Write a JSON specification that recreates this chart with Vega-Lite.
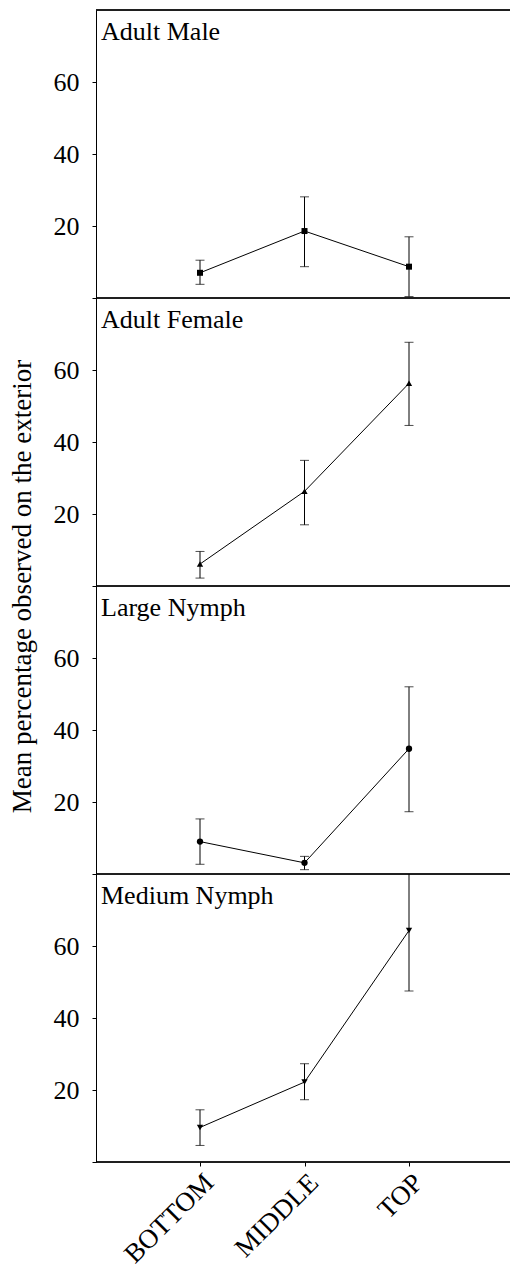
{
  "$schema": "https://vega.github.io/schema/vega-lite/v6.json",
  "background": "white",
  "padding": {"left": 8, "top": 9, "right": 0, "bottom": 0},
  "autosize": {"type": "pad"},
  "bounds": "flush",
  "spacing": 0,
  "config": {
    "view": {"stroke": null},
    "font": "Liberation Serif",
    "axis": {
      "domainColor": "black", "tickColor": "black", "labelColor": "black", "titleColor": "black",
      "labelFont": "Liberation Serif", "titleFont": "Liberation Serif",
      "labelFontSize": 26, "titleFontSize": 27, "titleFontWeight": "normal",
      "grid": false, "tickSize": 4, "domainWidth": 1, "tickWidth": 1
    },
    "title": {"font": "Liberation Serif", "fontSize": 26, "fontWeight": "normal", "color": "black", "anchor": "start", "frame": "group"}
  },
  "data": {"values": [
    {"stage": "Adult Male", "position": "BOTTOM", "mean": 7.0, "lo": 3.8, "hi": 10.5},
    {"stage": "Adult Male", "position": "MIDDLE", "mean": 18.6, "lo": 8.7, "hi": 28.1},
    {"stage": "Adult Male", "position": "TOP", "mean": 8.7, "lo": 0.4, "hi": 17.0},
    {"stage": "Adult Female", "position": "BOTTOM", "mean": 6.1, "lo": 2.2, "hi": 9.6},
    {"stage": "Adult Female", "position": "MIDDLE", "mean": 26.3, "lo": 17.0, "hi": 34.9},
    {"stage": "Adult Female", "position": "TOP", "mean": 56.3, "lo": 44.6, "hi": 67.7},
    {"stage": "Large Nymph", "position": "BOTTOM", "mean": 9.0, "lo": 2.7, "hi": 15.3},
    {"stage": "Large Nymph", "position": "MIDDLE", "mean": 3.1, "lo": 1.2, "hi": 4.9},
    {"stage": "Large Nymph", "position": "TOP", "mean": 34.8, "lo": 17.3, "hi": 52.0},
    {"stage": "Medium Nymph", "position": "BOTTOM", "mean": 9.6, "lo": 4.6, "hi": 14.5},
    {"stage": "Medium Nymph", "position": "MIDDLE", "mean": 22.2, "lo": 17.3, "hi": 27.3},
    {"stage": "Medium Nymph", "position": "TOP", "mean": 64.3, "lo": 47.5, "hi": 81.1}
  ]},
  "vconcat": [
    {
      "width": 414, "height": 288,
      "title": {"text": "Adult Male", "offset": -56, "baseline": "alphabetic", "dx": 5},
      "transform": [{"filter": "datum.stage == 'Adult Male'"}],
      "layer": [
        {"mark": {"type": "rule", "color": "black", "strokeWidth": 1}, "encoding": {"y": {"datum": 80, "type": "quantitative"}}},
        {"mark": {"type": "rule", "color": "black", "strokeWidth": 1}, "encoding": {"y": {"datum": 0, "type": "quantitative"}}},
        {"mark": {"type": "rule", "color": "black", "strokeWidth": 1, "clip": true},
         "encoding": {
           "x": {"field": "position", "type": "ordinal", "sort": ["BOTTOM", "MIDDLE", "TOP"], "scale": {"type": "point", "range": [104, 313], "padding": 0},
                 "axis": null},
           "y": {"field": "lo", "type": "quantitative", "scale": {"domain": [0, 80], "nice": false},
                 "axis": {"title": null, "values": [0, 20, 40, 60], "labelExpr": "datum.value == 0 ? '' : datum.label", "labelPadding": 13}},
           "y2": {"field": "hi"}}},
        {"mark": {"type": "tick", "color": "black", "thickness": 1, "size": 9, "clip": true}, "encoding": {"x": {"field": "position", "type": "ordinal"}, "y": {"field": "lo", "type": "quantitative"}}},
        {"mark": {"type": "tick", "color": "black", "thickness": 1, "size": 9, "clip": true}, "encoding": {"x": {"field": "position", "type": "ordinal"}, "y": {"field": "hi", "type": "quantitative"}}},
        {"mark": {"type": "line", "color": "black", "strokeWidth": 1}, "encoding": {"x": {"field": "position", "type": "ordinal"}, "y": {"field": "mean", "type": "quantitative"}}},
        {"mark": {"type": "point", "shape": "square", "filled": true, "color": "black", "size": 36, "opacity": 1}, "encoding": {"x": {"field": "position", "type": "ordinal"}, "y": {"field": "mean", "type": "quantitative"}}}
      ]
    },
    {
      "width": 414, "height": 288,
      "title": {"text": "Adult Female", "offset": -56, "baseline": "alphabetic", "dx": 5},
      "transform": [{"filter": "datum.stage == 'Adult Female'"}],
      "layer": [
        {"mark": {"type": "rule", "color": "black", "strokeWidth": 1}, "encoding": {"y": {"datum": 0, "type": "quantitative"}}},
        {"mark": {"type": "rule", "color": "black", "strokeWidth": 1, "clip": true},
         "encoding": {
           "x": {"field": "position", "type": "ordinal", "sort": ["BOTTOM", "MIDDLE", "TOP"], "scale": {"type": "point", "range": [104, 313], "padding": 0},
                 "axis": null},
           "y": {"field": "lo", "type": "quantitative", "scale": {"domain": [0, 80], "nice": false},
                 "axis": {"title": "Mean percentage observed on the exterior", "titleAnchor": "start", "titleAlign": "center", "titlePadding": 17,
                          "values": [0, 20, 40, 60], "labelExpr": "datum.value == 0 ? '' : datum.label", "labelPadding": 13}},
           "y2": {"field": "hi"}}},
        {"mark": {"type": "tick", "color": "black", "thickness": 1, "size": 9, "clip": true}, "encoding": {"x": {"field": "position", "type": "ordinal"}, "y": {"field": "lo", "type": "quantitative"}}},
        {"mark": {"type": "tick", "color": "black", "thickness": 1, "size": 9, "clip": true}, "encoding": {"x": {"field": "position", "type": "ordinal"}, "y": {"field": "hi", "type": "quantitative"}}},
        {"mark": {"type": "line", "color": "black", "strokeWidth": 1}, "encoding": {"x": {"field": "position", "type": "ordinal"}, "y": {"field": "mean", "type": "quantitative"}}},
        {"mark": {"type": "point", "shape": "triangle-up", "filled": true, "color": "black", "size": 40, "opacity": 1}, "encoding": {"x": {"field": "position", "type": "ordinal"}, "y": {"field": "mean", "type": "quantitative"}}}
      ]
    },
    {
      "width": 414, "height": 288,
      "title": {"text": "Large Nymph", "offset": -56, "baseline": "alphabetic", "dx": 5},
      "transform": [{"filter": "datum.stage == 'Large Nymph'"}],
      "layer": [
        {"mark": {"type": "rule", "color": "black", "strokeWidth": 1}, "encoding": {"y": {"datum": 0, "type": "quantitative"}}},
        {"mark": {"type": "rule", "color": "black", "strokeWidth": 1, "clip": true},
         "encoding": {
           "x": {"field": "position", "type": "ordinal", "sort": ["BOTTOM", "MIDDLE", "TOP"], "scale": {"type": "point", "range": [104, 313], "padding": 0},
                 "axis": null},
           "y": {"field": "lo", "type": "quantitative", "scale": {"domain": [0, 80], "nice": false},
                 "axis": {"title": null, "values": [0, 20, 40, 60], "labelExpr": "datum.value == 0 ? '' : datum.label", "labelPadding": 13}},
           "y2": {"field": "hi"}}},
        {"mark": {"type": "tick", "color": "black", "thickness": 1, "size": 9, "clip": true}, "encoding": {"x": {"field": "position", "type": "ordinal"}, "y": {"field": "lo", "type": "quantitative"}}},
        {"mark": {"type": "tick", "color": "black", "thickness": 1, "size": 9, "clip": true}, "encoding": {"x": {"field": "position", "type": "ordinal"}, "y": {"field": "hi", "type": "quantitative"}}},
        {"mark": {"type": "line", "color": "black", "strokeWidth": 1}, "encoding": {"x": {"field": "position", "type": "ordinal"}, "y": {"field": "mean", "type": "quantitative"}}},
        {"mark": {"type": "point", "shape": "circle", "filled": true, "color": "black", "size": 40, "opacity": 1}, "encoding": {"x": {"field": "position", "type": "ordinal"}, "y": {"field": "mean", "type": "quantitative"}}}
      ]
    },
    {
      "width": 414, "height": 288,
      "title": {"text": "Medium Nymph", "offset": -56, "baseline": "alphabetic", "dx": 5},
      "transform": [{"filter": "datum.stage == 'Medium Nymph'"}],
      "layer": [
        {"mark": {"type": "rule", "color": "black", "strokeWidth": 1}, "encoding": {"y": {"datum": 0, "type": "quantitative"}}},
        {"mark": {"type": "rule", "color": "black", "strokeWidth": 1, "clip": true},
         "encoding": {
           "x": {"field": "position", "type": "ordinal", "sort": ["BOTTOM", "MIDDLE", "TOP"], "scale": {"type": "point", "range": [104, 313], "padding": 0},
                 "axis": {"title": null, "domain": false, "labelAngle": -45, "labelAlign": "right", "labelBaseline": "top", "labelPadding": 3, "labelDx": -14, "labelDy": -6, "labelFontSize": 27}},
           "y": {"field": "lo", "type": "quantitative", "scale": {"domain": [0, 80], "nice": false},
                 "axis": {"title": null, "values": [0, 20, 40, 60], "labelExpr": "datum.value == 0 ? '' : datum.label", "labelPadding": 13}},
           "y2": {"field": "hi"}}},
        {"mark": {"type": "tick", "color": "black", "thickness": 1, "size": 9, "clip": true}, "encoding": {"x": {"field": "position", "type": "ordinal"}, "y": {"field": "lo", "type": "quantitative"}}},
        {"mark": {"type": "tick", "color": "black", "thickness": 1, "size": 9, "clip": true}, "encoding": {"x": {"field": "position", "type": "ordinal"}, "y": {"field": "hi", "type": "quantitative"}}},
        {"mark": {"type": "line", "color": "black", "strokeWidth": 1}, "encoding": {"x": {"field": "position", "type": "ordinal"}, "y": {"field": "mean", "type": "quantitative"}}},
        {"mark": {"type": "point", "shape": "triangle-down", "filled": true, "color": "black", "size": 40, "opacity": 1}, "encoding": {"x": {"field": "position", "type": "ordinal"}, "y": {"field": "mean", "type": "quantitative"}}}
      ]
    }
  ]
}
